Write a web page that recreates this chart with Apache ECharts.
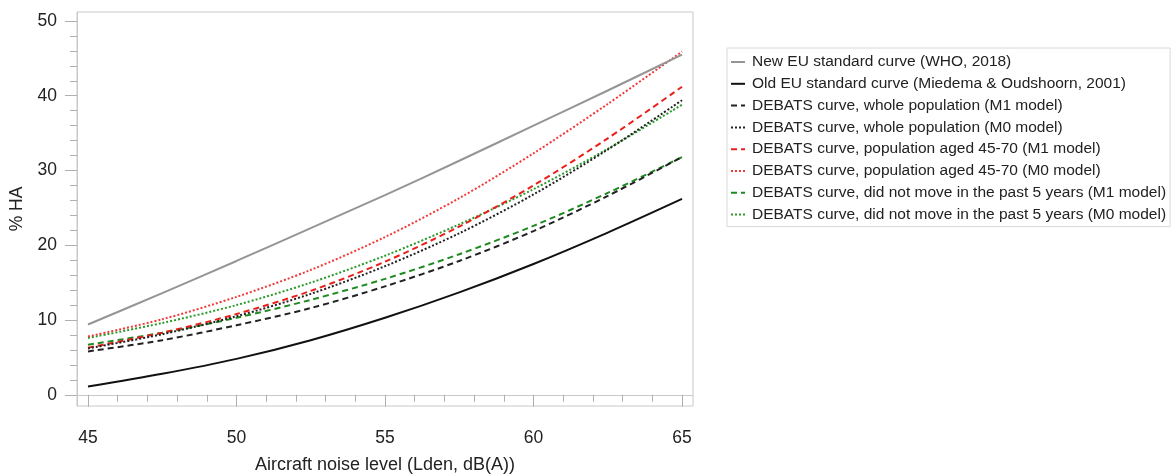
<!DOCTYPE html>
<html>
<head>
<meta charset="utf-8">
<script src="https://cdn.jsdelivr.net/npm/echarts@6/dist/echarts.min.js"></script>
<style>
html,body{margin:0;padding:0;background:#fff;}
#chart{width:1176px;height:474px;}
</style>
</head>
<body>
<div id="chart"></div>
<script>
// Aircraft noise level (Lden, dB(A))
const noiseLevels = [45, 47.5, 50, 52.5, 55, 57.5, 60, 62.5, 65];

// % HA values
const newEU      = [9.4, 13.6, 17.9, 22.3, 26.7, 31.3, 36.0, 40.7, 45.5];
const oldEU      = [1.1, 2.8, 4.8, 7.3, 10.3, 13.7, 17.5, 21.7, 26.2];
const wholeM1    = [5.8, 7.3, 9.3, 11.6, 14.5, 17.9, 21.9, 26.6, 31.8];
const wholeM0    = [6.2, 8.1, 10.5, 13.5, 17.2, 21.6, 26.8, 32.8, 39.4];
const agedM1     = [6.3, 8.3, 10.8, 13.9, 17.8, 22.5, 28.0, 34.3, 41.2];
const agedM0     = [7.8, 10.1, 13.1, 16.7, 21.1, 26.3, 32.3, 38.9, 45.9];
const noMoveM1   = [6.7, 8.3, 10.3, 12.7, 15.5, 18.8, 22.6, 27.0, 31.8];
const noMoveM0   = [7.6, 9.6, 12.0, 15.0, 18.6, 22.8, 27.5, 32.9, 38.8];

const seriesNames = [
  'New EU standard curve (WHO, 2018)',
  'Old EU standard curve (Miedema & Oudshoorn, 2001)',
  'DEBATS curve, whole population (M1 model)',
  'DEBATS curve, whole population (M0 model)',
  'DEBATS curve, population aged 45-70 (M1 model)',
  'DEBATS curve, population aged 45-70 (M0 model)',
  'DEBATS curve, did not move in the past 5 years (M1 model)',
  'DEBATS curve, did not move in the past 5 years (M0 model)'
];
const seriesData = [newEU, oldEU, wholeM1, wholeM0, agedM1, agedM0, noMoveM1, noMoveM0];

// tick labels
const xMajorTicks = [45, 50, 55, 60, 65];
const xMinorTicks = [46,47,48,49,51,52,53,54,56,57,58,59,61,62,63,64];
const yMajorTicks = [0, 10, 20, 30, 40, 50];
const yMinorTicks = [2,4,6,8,12,14,16,18,22,24,26,28,32,34,36,38,42,44,46,48];

const styles = [
  {color:'#959595', type:'solid', width:2},
  {color:'#111111', type:'solid', width:2},
  {color:'#222222', type:[6,4], width:2},
  {color:'#222222', type:[2,2], width:2},
  {color:'#e8201c', type:[6,4], width:2},
  {color:'#f03a3a', type:[2,2], width:2},
  {color:'#1f8a1f', type:[6,4], width:2},
  {color:'#2a9a2a', type:[2,2], width:2}
];

const X_MIN = 44.63, X_MAX = 65.37, Y_MIN = -1.5, Y_MAX = 51.2;
const axisGray = '#c8c8c8';
const fontFam = 'Liberation Sans, Arial, sans-serif';
const labelStyle = {color:'#222', fontSize:17.5, fontFamily:fontFam};

const chart = echarts.init(document.getElementById('chart'), null, {renderer:'canvas'});
chart.setOption({
  animation:false,
  backgroundColor:'#fff',
  grid:{left:77, top:12, right:483, bottom:68, show:true, borderColor:axisGray, borderWidth:1,
        containLabel:false, outerBoundsMode:'none'},
  legend:{
    orient:'vertical', left:727, top:48,
    padding:[6,4,4,3], itemGap:5.8, itemWidth:14, itemHeight:14,
    borderColor:'#d8d8d8', borderWidth:1,
    itemStyle:{opacity:0},
    textStyle:{color:'#222', fontSize:15.5, fontFamily:fontFam, padding:[0,0,0,2]},
    data:seriesNames
  },
  xAxis:[
    {type:'value', min:X_MIN, max:X_MAX,
     name:'Aircraft noise level (Lden, dB(A))', nameLocation:'middle', nameGap:50,
     nameTextStyle:{color:'#222', fontSize:18, fontFamily:fontFam},
     axisLine:{show:true, lineStyle:{color:axisGray}},
     axisTick:{show:true, customValues:xMajorTicks, length:12, lineStyle:{color:'#b0b0b0'}},
     axisLabel:{customValues:xMajorTicks, margin:23, ...labelStyle},
     splitLine:{show:false}},
    {type:'value', min:X_MIN, max:X_MAX, position:'bottom',
     axisLine:{show:false},
     axisTick:{show:true, customValues:xMinorTicks, length:7, lineStyle:{color:'#b0b0b0'}},
     axisLabel:{show:false}, splitLine:{show:false}}
  ],
  yAxis:[
    {type:'value', min:Y_MIN, max:Y_MAX,
     name:'% HA', nameLocation:'middle', nameGap:51, nameRotate:90,
     nameTextStyle:labelStyle,
     axisLine:{show:true, lineStyle:{color:axisGray}},
     axisTick:{show:true, customValues:yMajorTicks, length:12, lineStyle:{color:'#b0b0b0'}},
     axisLabel:{customValues:yMajorTicks, margin:20, ...labelStyle},
     splitLine:{show:false}},
    {type:'value', min:Y_MIN, max:Y_MAX, position:'left',
     axisLine:{show:false},
     axisTick:{show:true, customValues:yMinorTicks, length:7, lineStyle:{color:'#b0b0b0'}},
     axisLabel:{show:false}, splitLine:{show:false}}
  ],
  series: seriesNames.map((name, i) => ({
    name, type:'line', smooth:0.3, showSymbol:false, symbol:'none',
    xAxisIndex:0, yAxisIndex:0,
    data: noiseLevels.map((x, j) => [x, seriesData[i][j]]),
    lineStyle: styles[i], itemStyle:{color:styles[i].color},
    z: 10 - i
  }))
});
</script>
</body>
</html>
